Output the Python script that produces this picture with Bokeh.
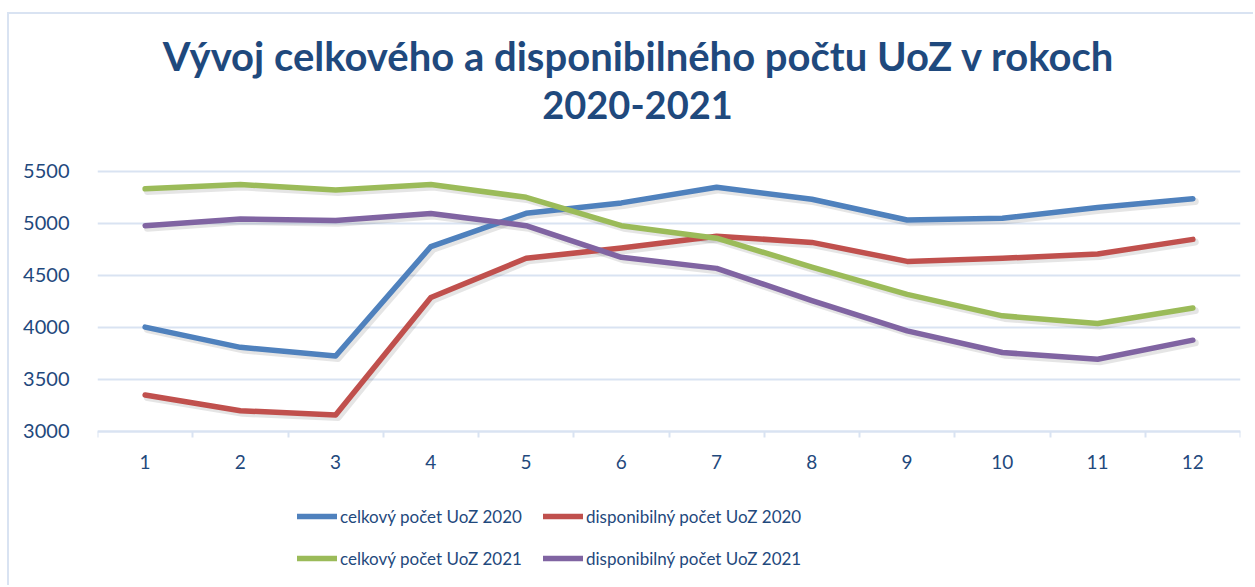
from bokeh.plotting import figure
from bokeh.models import (FixedTicker, Legend, LegendItem, Label, Range1d)
from bokeh.transform import dodge
from bokeh.embed import file_html
from bokeh.resources import INLINE

# ---- data ----
months = [1, 2, 3, 4, 5, 6, 7, 8, 9, 10, 11, 12]
celkovy_2020 = [4000, 3805, 3722, 4775, 5095, 5195, 5345, 5230, 5030, 5047, 5150, 5234]
disponibilny_2020 = [3347, 3195, 3154, 4285, 4662, 4760, 4875, 4815, 4632, 4662, 4703, 4844]
celkovy_2021 = [5330, 5372, 5320, 5372, 5249, 4976, 4855, 4578, 4315, 4108, 4034, 4183]
disponibilny_2021 = [4976, 5040, 5025, 5093, 4976, 4671, 4565, 4255, 3964, 3755, 3691, 3874]
series_names = ["celkový počet UoZ 2020", "disponibilný počet UoZ 2020",
                "celkový počet UoZ 2021", "disponibilný počet UoZ 2021"]
series_colors = ["#4F81BD", "#C0504D", "#9BBB59", "#8064A2"]
y_ticks = [3000, 3500, 4000, 4500, 5000, 5500]
title_lines = ["Vývoj celkového a disponibilného počtu UoZ v rokoch", "2020-2021"]

TXT = "#1F497D"
GRID = "#D9E3F2"
FONT = "Lato"

# page geometry (pixels)
MX, MY = 9, 14                      # outer border offset
W, H = 1255 - MX, 587 - MY
PLOT_L, PLOT_R = 97, 1240           # category area
Y_TOP_PX, Y_BOT_PX = 170.7, 430.5   # where 5500 and 3000 sit
pxu = (Y_BOT_PX - Y_TOP_PX) / (y_ticks[-1] - y_ticks[0])
y_lo = y_ticks[0] - (587 - Y_BOT_PX) / pxu
y_hi = y_ticks[-1] + (Y_TOP_PX - MY) / pxu

p = figure(width=W, height=H, output_backend="svg", toolbar_location=None,
           x_range=Range1d(0.5, 12.5), y_range=Range1d(y_lo, y_hi),
           min_border_left=PLOT_L - MX, min_border_right=1255 - PLOT_R,
           min_border_top=0, min_border_bottom=0,
           margin=(MY - 2, 0, 0, MX - 2),
           styles={"border-top": f"2px solid {GRID}", "border-left": f"2px solid {GRID}"})
p.outline_line_color = None
p.background_fill_color = "white"
p.border_fill_color = "white"

# axes
p.xaxis.fixed_location = y_ticks[0]
p.xaxis.ticker = FixedTicker(ticks=months, minor_ticks=[m - 0.5 for m in months] + [12.5])
p.xaxis.axis_line_color = GRID
p.xaxis.axis_line_width = 2
p.xaxis.major_tick_line_color = None
p.xaxis.minor_tick_line_color = GRID
p.xaxis.minor_tick_line_width = 2
p.xaxis.minor_tick_out = 6
p.xaxis.minor_tick_in = 0
p.xaxis.major_label_standoff = 18
p.xaxis.major_label_text_font = FONT
p.xaxis.major_label_text_font_size = "19px"
p.xaxis.major_label_text_color = TXT

p.yaxis.ticker = FixedTicker(ticks=y_ticks)
p.yaxis.axis_line_color = None
p.yaxis.major_tick_line_color = None
p.yaxis.minor_tick_line_color = None
p.yaxis.major_label_standoff = 22
p.yaxis.major_label_text_font = FONT
p.yaxis.major_label_text_font_size = "20px"
p.yaxis.major_label_text_color = TXT

p.xgrid.grid_line_color = None
p.ygrid.grid_line_color = GRID
p.ygrid.grid_line_width = 2

# lines (soft shadow first, then the series)
series = [celkovy_2020, disponibilny_2020, celkovy_2021, disponibilny_2021]
items = {}
for vals in series:
    src = {"x": months, "y": vals}
    p.line(x=dodge("x", 0.025, range=p.x_range), y=dodge("y", -25, range=p.y_range),
           source=src, line_color="black", line_alpha=0.1, line_width=7,
           line_join="round", line_cap="round")
for name, vals, col in zip(series_names, series, series_colors):
    r = p.line(months, vals, line_color=col, line_width=5.5, line_join="round", line_cap="round")
    items[name] = LegendItem(label=name, renderers=[r])

# legend: filled column by column -> celkový in the first column, disponibilný in the second
order = [series_names[0], series_names[2], series_names[1], series_names[3]]
legend = Legend(items=[items[n] for n in order], ncols=2, location=(297 - PLOT_L, 587 - 579),
                glyph_width=40, glyph_height=42, label_height=42, label_width=203,
                label_standoff=3, spacing=0, padding=0, margin=0,
                border_line_color=None, background_fill_alpha=0,
                label_text_font=FONT, label_text_font_size="17px",
                label_text_color=TXT)
p.add_layout(legend, "center")

# title
for line, (cx, base, fs) in zip(title_lines, [(638.5, 55, "40px"), (637, 104, "38px")]):
    p.add_layout(Label(x=cx - PLOT_L, y=587 - base, x_units="screen", y_units="screen",
                       text=line, text_align="center", text_baseline="alphabetic",
                       text_font=FONT, text_font_style="bold",
                       text_font_size=fs, text_color=TXT))

open("out.html", "w").write(file_html(p, INLINE))
